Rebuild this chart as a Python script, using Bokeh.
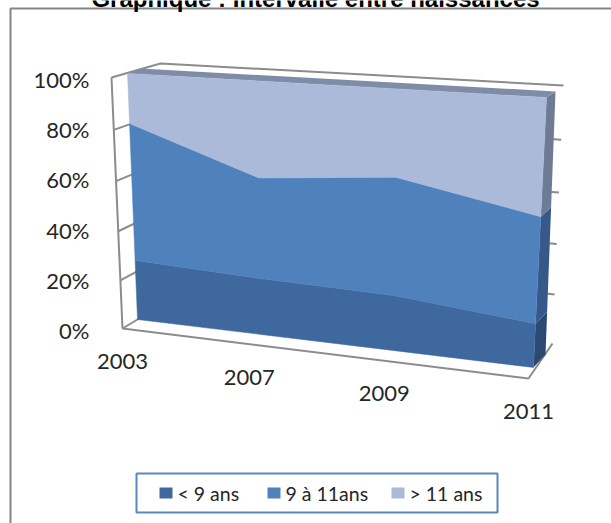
from bokeh.plotting import figure
from bokeh.embed import file_html
from bokeh.resources import INLINE
from bokeh.core.properties import value
import numpy as np

title = "Graphique : Intervalle entre naissances"
years = ["2003", "2007", "2009", "2011"]
pct_ticks = [0, 20, 40, 60, 80, 100]
names = ["< 9 ans", "9 à 11ans", "> 11 ans"]
under9 = [25, 23, 22, 17]
mid9_11 = [55.5, 40, 45.5, 40.3]
over11 = [19.5, 37, 32.5, 42.7]

front_col = ["#3F689E", "#4F81BD", "#ABBAD8"]
side_col = ["#2B4A72", "#37598A", "#6E7B94"]
top_col = "#7F8CA8"
line_col = "#8C8C8C"
txt_col = "#262626"
FONT = "Lato"

# projection planes (screen corners: bottom-left, bottom-right, top-right, top-left)
AREA_FRONT = [(137, 319), (533, 367), (546, 97), (127, 73)]
AREA_BACK = [(150, 311), (545, 354), (555, 91), (140, 68)]
WALL_BACK = [(172, 298), (552, 343), (563, 85), (160, 63)]
WALL_FRONT = [(122, 328), (528, 378), (540, 103), (111, 77)]


def homography(c):
    src = [(0, 0), (1, 0), (1, 1), (0, 1)]
    A, b = [], []
    for (u, v), (x, y) in zip(src, c):
        A.append([u, v, 1, 0, 0, 0, -u * x, -v * x]); b.append(x)
        A.append([0, 0, 0, u, v, 1, -u * y, -v * y]); b.append(y)
    h = np.append(np.linalg.solve(np.array(A, float), np.array(b, float)), 1).reshape(3, 3)

    def f(u, v):
        w = h @ np.array([u, v, 1.0])
        return w[0] / w[2], w[1] / w[2]
    return f


front, back, wall, frame = (homography(AREA_FRONT), homography(AREA_BACK),
                            homography(WALL_BACK), homography(WALL_FRONT))
n = len(years)
us = [i / (n - 1) for i in range(n)]
layers = np.cumsum(np.array([under9, mid9_11, over11], float), axis=0)
layers = layers / layers[-1]
lower = np.vstack([np.zeros(n), layers[:-1]])

p = figure(width=611, height=523, output_backend="svg", toolbar_location=None,
           x_range=(0, 611), y_range=(523, 0), min_border=0, outline_line_color=None,
           background_fill_color="white", border_fill_color="white")
p.axis.visible = False
p.grid.visible = False
p.styles = {"position": "absolute", "left": "0", "top": "0"}

# chart frame
p.line([10, 10, 611], [523, 8, 8], line_color="#858585", line_width=2)

# title, cut off by the top of the picture
p.text([315], [-2], text=[title], text_font=value("Liberation Sans"), text_font_size="24px",
       text_font_style="bold", text_align="center", text_baseline="alphabetic", text_color="#000000")


def draw(points, **kw):
    p.line([q[0] for q in points], [q[1] for q in points], line_color=line_col, line_width=2, **kw)


# walls and floor
draw([frame(0, 1), wall(0, 1), wall(1, 1)])
draw([frame(0, 0), frame(0, 1)])
draw([wall(0, 0), frame(0, 0), frame(1, 0), wall(1, 0)])
for t in pct_ticks[1:-1]:
    v = t / 100
    draw([frame(0, v), wall(0, v)])
    draw([wall(0.975, v), wall(1, v)])

# right side of each layer
for k in range(3):
    pts = [front(1, lower[k][-1]), front(1, layers[k][-1]), back(1, layers[k][-1]), back(1, lower[k][-1])]
    p.patch([q[0] for q in pts], [q[1] for q in pts], fill_color=side_col[k], line_color=None)

# top of the stack
pts = [front(0, 1), front(1, 1), back(1, 1), back(0, 1)]
p.patch([q[0] for q in pts], [q[1] for q in pts], fill_color=top_col, line_color=None)

# front faces
for k in range(3):
    upper_pts = [front(u, t) for u, t in zip(us, layers[k])]
    lower_pts = [front(u, t) for u, t in zip(us, lower[k])][::-1]
    pts = upper_pts + lower_pts
    p.patch([q[0] for q in pts], [q[1] for q in pts], fill_color=front_col[k],
            line_color=front_col[k], line_width=0.5)

# tick labels
y0, y1 = frame(0, 0)[1] + 2, frame(0, 1)[1] + 2
for t in pct_ticks:
    y = y0 + (y1 - y0) * t / 100
    p.text([89], [y], text=[f"{t}%"], text_font=value(FONT), text_font_size="22px",
           text_align="right", text_baseline="middle", text_color=txt_col)
for u, year in zip(us, years):
    x, y = frame(u, 0)
    p.text([x], [y + 33], text=[year], text_font=value(FONT), text_font_size="22px",
           text_align="center", text_baseline="middle", text_color=txt_col)

# legend
p.quad(left=[136], right=[497], top=[473], bottom=[512], fill_color="white",
       line_color="#5B87BF", line_width=2)
for x, name, col in zip([159, 267, 391], names, front_col):
    p.quad(left=[x], right=[x + 13], top=[487], bottom=[498], fill_color=col, line_color=None)
    p.text([x + 18], [493], text=[name], text_font=value(FONT), text_font_size="19.5px",
           text_align="left", text_baseline="middle", text_color=txt_col)

open("out.html", "w").write(file_html(p, INLINE))
